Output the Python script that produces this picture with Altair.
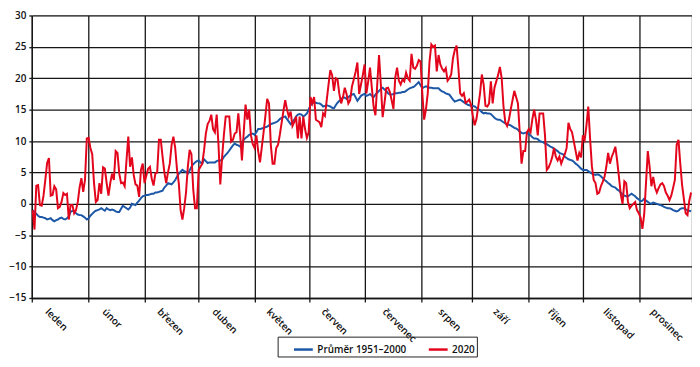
import altair as alt
import pandas as pd

# ---------------- data ----------------
months = ["leden", "únor", "březen", "duben", "květen", "červen",
          "červenec", "srpen", "září", "říjen", "listopad", "prosinec"]
# month boundaries (day-of-year positions of the vertical grid lines)
month_edges = [0, 31.2, 62.9, 92.4, 123.8, 153.6, 184.6, 216.1, 244.2, 275.4, 305.4, 336.6, 366]
# where each rotated month label starts (day-of-year units)
label_pos = [10.3, 41.9, 72.4, 102.9, 132.9, 163.4, 197.2, 228.2, 258.7, 289.0, 319.7, 346.0]
y_ticks = [-15, -10, -5, 0, 5, 10, 15, 20, 25, 30]

avg_jan = [-1.0, -1.3, -1.6, -1.9, -2.1, -2.1, -2.2, -2.3, -2.5, -2.4, -2.3, -2.6, -2.8, -2.6, -2.5, -2.3,
           -2.2, -2.4, -2.5, -2.3, -2.0, -1.3, -1.1, -1.2, -1.5, -1.7, -1.8, -1.8, -2.0, -2.2, -2.5]
avg_feb = [-2.3, -1.9, -1.6, -1.3, -1.1, -1.0, -0.9, -0.7, -0.9, -1.1, -0.7, -0.9, -1.0, -0.9, -1.0,
           -1.2, -1.3, -1.3, -0.8, -0.3, -0.5, -0.7, -0.9, -0.6, 0.0, -0.1, -0.2, 0.2, 0.5]
avg_mar = [0.9, 1.2, 1.3, 1.4, 1.4, 1.5, 1.6, 1.6, 1.8, 1.8, 1.9, 2.0, 2.1, 2.6, 2.9, 3.3,
           3.2, 3.1, 3.4, 3.8, 4.3, 4.8, 5.1, 5.4, 5.2, 5.1, 4.8, 5.3, 5.9, 6.3, 6.6]
avg_apr = [6.8, 6.9, 6.6, 6.4, 7.1, 6.8, 6.5, 6.6, 6.6, 6.6, 6.6, 6.8, 6.9, 6.9, 7.0,
           7.5, 7.8, 8.1, 8.5, 8.9, 9.3, 9.6, 9.4, 9.3, 9.1, 9.6, 10.2, 10.5, 10.7, 11.0]
avg_may = [11.1, 11.2, 11.0, 11.4, 11.9, 11.9, 12.0, 12.1, 12.2, 12.3, 12.5, 12.7, 12.8, 12.9, 13.0, 13.2,
           13.5, 13.7, 13.8, 13.9, 13.5, 13.1, 12.7, 13.0, 13.4, 13.9, 14.2, 14.3, 14.2, 13.9, 14.1]
avg_jun = [14.4, 15.0, 15.7, 16.0, 16.2, 16.1, 16.0, 16.0, 15.8, 15.5, 15.6, 15.7, 15.6, 15.5, 15.3,
           15.2, 15.7, 16.1, 16.4, 16.6, 17.0, 16.9, 16.7, 17.0, 17.2, 17.4, 17.5, 17.0, 16.4, 16.8]
avg_jul = [17.2, 17.4, 17.5, 17.2, 17.3, 17.5, 17.2, 17.0, 17.4, 17.7, 18.0, 18.3, 18.5, 18.2, 18.0, 17.6,
           17.4, 17.4, 17.5, 17.6, 17.6, 17.7, 17.7, 17.8, 17.8, 18.0, 18.2, 18.4, 18.5, 18.6, 18.8]
avg_aug = [19.1, 19.4, 18.9, 18.4, 18.6, 18.7, 18.6, 18.5, 18.5, 18.4, 18.4, 18.4, 18.4, 18.1, 17.9, 17.8,
           17.6, 17.5, 17.4, 17.0, 16.6, 16.3, 16.4, 16.5, 16.6, 16.4, 16.2, 16.0, 15.8, 15.7, 15.6]
avg_sep = [15.6, 15.5, 15.3, 15.1, 14.9, 14.6, 14.4, 14.5, 14.4, 14.4, 14.3, 14.0, 13.7, 13.5, 13.4,
           13.4, 13.2, 13.0, 12.8, 12.7, 12.6, 12.5, 12.3, 12.1, 12.0, 11.8, 11.5, 11.3, 11.2, 11.3]
avg_oct = [11.4, 11.1, 10.9, 10.6, 10.4, 10.4, 10.3, 10.0, 9.9, 9.8, 9.6, 9.5, 9.3, 9.1, 9.0, 8.8,
           8.6, 8.4, 8.1, 8.0, 7.9, 7.5, 7.3, 7.1, 7.0, 6.9, 6.7, 6.4, 6.2, 5.9, 5.6]
avg_nov = [5.4, 5.4, 5.4, 5.2, 5.0, 4.8, 4.7, 4.6, 4.7, 4.6, 4.4, 4.1, 3.8, 3.6, 3.3,
           3.1, 2.8, 2.7, 2.6, 2.3, 2.1, 1.8, 1.5, 1.3, 1.2, 1.2, 1.4, 1.6, 1.4, 1.2]
avg_dec = [0.9, 0.7, 0.4, 0.5, 0.8, 0.5, 0.3, 0.1, 0.0, 0.2, 0.1, 0.0, -0.1, -0.2, -0.3, -0.5,
           -0.6, -0.7, -0.7, -0.8, -1.0, -1.1, -1.2, -1.1, -0.8, -0.7, -0.7, -0.9, -1.0, -1.1, -1.2]

t20_jan = [-1.0, -4.1, 2.9, 3.0, -0.2, -0.3, 1.3, 3.8, 6.5, 7.3, 1.3, 1.4, 2.8, 2.3, -0.7, -0.5,
           0.3, 1.7, 1.4, 1.6, -2.5, -0.2, -0.2, -1.5, -1.0, 0.3, 2.6, 4.1, 1.9, 3.8, 10.4]
t20_feb = [10.5, 8.9, 7.9, 3.3, 0.3, 0.6, 3.3, 1.6, 5.8, 5.6, 3.3, 1.3, 3.3, 4.8, 3.8,
           8.4, 8.1, 4.8, 3.3, 3.4, 2.8, 6.9, 10.7, 5.9, 7.4, 4.6, 3.1, 2.9, 1.1]
t20_mar = [5.4, 6.4, 3.3, 4.5, 5.6, 5.9, 4.0, 2.9, 4.8, 5.0, 10.2, 10.2, 7.5, 5.0, 3.3, 5.0,
           6.4, 9.4, 10.7, 8.9, 5.5, 3.3, -1.0, -2.5, -0.7, 1.8, 5.9, 8.6, 7.9, 2.3, -0.7]
t20_apr = [-0.7, 5.4, 5.9, 6.4, 8.5, 11.2, 12.7, 13.2, 14.2, 11.9, 11.4, 14.2, 9.4, 3.1, 7.4,
           11.0, 13.9, 13.9, 13.9, 9.9, 10.2, 11.2, 11.4, 14.4, 11.0, 6.9, 11.4, 15.8, 13.4, 15.0]
t20_may = [10.9, 9.5, 8.9, 10.9, 8.4, 6.6, 9.0, 11.4, 14.0, 16.7, 16.0, 9.4, 6.4, 6.4, 8.9, 9.4,
           11.0, 12.9, 14.8, 16.5, 15.0, 13.9, 14.7, 12.4, 13.0, 13.9, 10.4, 13.9, 10.4, 13.9, 11.9]
t20_jun = [10.5, 11.4, 17.0, 16.0, 17.0, 13.4, 13.2, 13.0, 12.2, 14.4, 14.0, 16.5, 19.0, 21.3, 20.5,
           18.0, 20.0, 19.8, 17.5, 16.0, 17.0, 18.5, 17.5, 16.0, 16.5, 18.7, 19.8, 21.0, 22.5, 17.5]
t20_jul = [19.0, 20.5, 22.2, 17.6, 19.5, 21.7, 18.5, 15.5, 14.1, 19.0, 23.7, 19.0, 13.8, 16.0, 18.4, 18.5,
           17.8, 16.5, 15.1, 20.1, 21.7, 19.6, 19.0, 19.8, 19.5, 20.9, 20.0, 19.6, 23.9, 21.7, 21.5]
t20_aug = [22.0, 22.9, 22.7, 17.6, 13.4, 15.0, 17.6, 22.7, 25.4, 25.0, 25.2, 21.1, 23.7, 22.2, 21.5, 21.1,
           21.6, 19.6, 20.0, 20.6, 23.2, 24.5, 25.2, 21.6, 17.6, 17.2, 17.6, 16.1, 16.3, 16.6, 15.8]
t20_sep = [14.0, 12.5, 13.5, 15.5, 17.6, 20.6, 19.0, 15.6, 15.5, 16.0, 19.5, 16.0, 18.5, 19.5, 20.5,
           21.8, 20.0, 15.5, 13.0, 12.4, 13.4, 15.0, 16.5, 18.0, 17.0, 16.0, 11.4, 6.4, 8.4, 8.4]
t20_oct = [11.4, 11.9, 11.4, 13.5, 15.0, 13.4, 10.9, 14.4, 14.4, 14.4, 10.9, 5.4, 5.8, 6.5, 7.4, 8.9,
           7.5, 6.9, 7.5, 6.4, 7.2, 7.9, 8.9, 12.9, 11.9, 11.4, 9.9, 8.4, 6.9, 8.1, 7.4]
t20_nov = [10.9, 10.2, 12.5, 15.5, 10.4, 6.0, 3.8, 3.3, 1.6, 1.8, 2.8, 3.5, 4.3, 5.9, 8.1,
           6.4, 7.5, 8.2, 9.1, 6.9, 4.3, 1.5, 0.0, 3.6, 3.3, 0.3, -0.7, -0.3, 0.0, 0.3]
t20_dec = [-1.0, -1.5, -2.2, -4.0, -1.7, 3.3, 8.4, 5.9, 2.8, 4.3, 2.6, 1.8, 2.5, 3.1, 3.3, 2.8,
           1.8, 1.3, 0.6, 1.3, 2.5, 3.8, 9.4, 10.2, 6.4, 3.0, 0.8, -1.5, -1.8, 0.5, 1.8]

avg = (avg_jan + avg_feb + avg_mar + avg_apr + avg_may + avg_jun +
       avg_jul + avg_aug + avg_sep + avg_oct + avg_nov + avg_dec)
t2020 = (t20_jan + t20_feb + t20_mar + t20_apr + t20_may + t20_jun +
         t20_jul + t20_aug + t20_sep + t20_oct + t20_nov + t20_dec)

AVG_NAME = "Průměr 1951–2000"
Y20_NAME = "2020"
BLUE = "#1d58a7"
RED = "#e3051b"
FONT = "Open Sans"
INK = "#111111"
GRID = "#161616"

n_avg, n_20 = len(avg), len(t2020)
df = pd.DataFrame({
    "pos": [i + 0.5 for i in range(n_avg)] + [i + 0.5 for i in range(n_20)],
    "temp": avg + t2020,
    "series": [AVG_NAME] * n_avg + [Y20_NAME] * n_20,
})
labels_df = pd.DataFrame({"pos": label_pos, "month": months})

# ---------------- chart ----------------
W, H = 666, 285
xscale = alt.Scale(domain=[0, 366], nice=False, zero=False)
yscale = alt.Scale(domain=[-15, 30], nice=False, zero=False)
xaxis = alt.Axis(values=month_edges, labels=False, title=None, grid=True, ticks=True,
                 tickSize=4, tickColor=GRID, domainColor=GRID,
                 gridColor=GRID, gridWidth=1.3, tickWidth=1.3, domainWidth=1.3)
yaxis = alt.Axis(values=y_ticks, title=None, grid=True, tickSize=3, labelPadding=3,
                 tickColor=GRID, domainColor=GRID, gridColor=GRID,
                 gridWidth=1.3, tickWidth=1.3, domainWidth=1.3, format="d",
                 labelFont=FONT, labelFontSize=10, labelFontWeight=600, labelColor=INK)

color = alt.Color("series:N",
                  scale=alt.Scale(domain=[AVG_NAME, Y20_NAME], range=[BLUE, RED]),
                  legend=alt.Legend(orient="none", legendX=248, legendY=324,
                                    direction="horizontal", title=None,
                                    symbolType="stroke", symbolStrokeWidth=2.5,
                                    symbolSize=360, strokeColor="#222", padding=2,
                                    symbolOffset=13, labelOffset=3, columnPadding=8,
                                    labelFont=FONT, labelFontSize=10, labelFontWeight=600,
                                    labelColor=INK))

base = alt.Chart(df)
blue = base.transform_filter(alt.datum.series == AVG_NAME).mark_line(strokeWidth=2).encode(
    x=alt.X("pos:Q", scale=xscale, axis=xaxis),
    y=alt.Y("temp:Q", scale=yscale, axis=yaxis),
    color=color,
)
red = base.transform_filter(alt.datum.series == Y20_NAME).mark_line(strokeWidth=2).encode(
    x=alt.X("pos:Q", scale=xscale, axis=xaxis),
    y=alt.Y("temp:Q", scale=yscale, axis=yaxis),
    color=color,
)
month_text = alt.Chart(labels_df).mark_text(
    angle=45, align="left", baseline="top", font=FONT, fontSize=10, fontWeight=600, color=INK
).encode(
    x=alt.X("pos:Q", scale=xscale, axis=xaxis),
    y=alt.value(H + 9),
    text="month:N",
)

chart = alt.layer(blue, red, month_text).properties(
    width=W, height=H,
    autosize=alt.AutoSizeParams(type="none"),
    padding={"left": 24, "top": 6, "right": 0, "bottom": 60},
).configure_view(stroke=None).configure(background="white")

chart.save("out.html", embed_options={"renderer": "svg", "actions": False})
